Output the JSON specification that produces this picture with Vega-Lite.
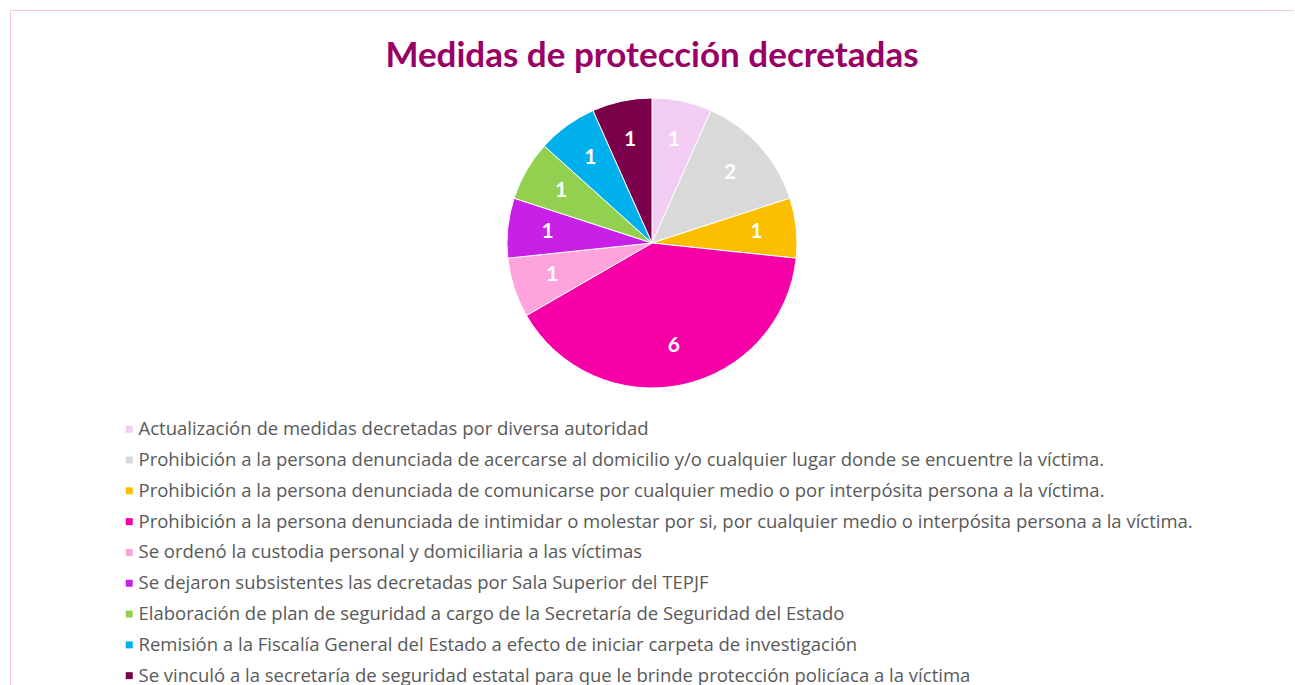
{
  "$schema": "https://vega.github.io/schema/vega-lite/v6.json",
  "width": 1284,
  "height": 466,
  "autosize": "none",
  "padding": {"left": 10, "top": 10, "right": 0, "bottom": 209},
  "background": "#ffffff",
  "view": {"stroke": "#F9C6E0", "strokeWidth": 1, "strokeDash": [1284, 1750, 466, 0]},
  "title": {
    "text": "Medidas de protección decretadas",
    "font": "Lato",
    "fontSize": 35,
    "fontWeight": "bold",
    "color": "#990066",
    "anchor": "middle",
    "offset": -64
  },
  "data": {
    "values": [
      {"order": 1, "medida": "Actualización de medidas decretadas por diversa autoridad", "value": 1},
      {"order": 2, "medida": "Prohibición a la persona denunciada de acercarse al domicilio y/o cualquier lugar donde se encuentre la víctima.", "value": 2},
      {"order": 3, "medida": "Prohibición a la persona denunciada de comunicarse por cualquier medio o por interpósita persona a la víctima.", "value": 1},
      {"order": 4, "medida": "Prohibición a la persona denunciada de intimidar o molestar por si, por cualquier medio o interpósita persona a la víctima.", "value": 6},
      {"order": 5, "medida": "Se ordenó la custodia personal y domiciliaria a las víctimas", "value": 1},
      {"order": 6, "medida": "Se dejaron subsistentes las decretadas por Sala Superior del TEPJF", "value": 1},
      {"order": 7, "medida": "Elaboración de plan de seguridad a cargo de la Secretaría de Seguridad del Estado", "value": 1},
      {"order": 8, "medida": "Remisión a la Fiscalía General del Estado a efecto de iniciar carpeta de investigación", "value": 1},
      {"order": 9, "medida": "Se vinculó a la secretaría de seguridad estatal para que le brinde protección policíaca a la víctima", "value": 1}
    ]
  },
  "encoding": {
    "theta": {"field": "value", "type": "quantitative", "stack": true},
    "order": {"field": "order", "type": "quantitative"}
  },
  "layer": [
    {
      "mark": {"type": "arc", "outerRadius": 145, "stroke": "#ffffff", "strokeWidth": 1},
      "encoding": {
        "color": {
          "field": "medida",
          "type": "nominal",
          "sort": null,
          "scale": {
            "domain": [
              "Actualización de medidas decretadas por diversa autoridad",
              "Prohibición a la persona denunciada de acercarse al domicilio y/o cualquier lugar donde se encuentre la víctima.",
              "Prohibición a la persona denunciada de comunicarse por cualquier medio o por interpósita persona a la víctima.",
              "Prohibición a la persona denunciada de intimidar o molestar por si, por cualquier medio o interpósita persona a la víctima.",
              "Se ordenó la custodia personal y domiciliaria a las víctimas",
              "Se dejaron subsistentes las decretadas por Sala Superior del TEPJF",
              "Elaboración de plan de seguridad a cargo de la Secretaría de Seguridad del Estado",
              "Remisión a la Fiscalía General del Estado a efecto de iniciar carpeta de investigación",
              "Se vinculó a la secretaría de seguridad estatal para que le brinde protección policíaca a la víctima"
            ],
            "range": ["#F3CCF3", "#D9D9D9", "#FBBF00", "#F700A8", "#FFA3DC", "#C820E6", "#92D050", "#00B0EC", "#7A0049"]
          },
          "legend": {
            "orient": "none",
            "legendX": 0,
            "legendY": 300,
            "padding": 110,
            "strokeColor": "#F9C6E0",
            "title": null,
            "symbolType": "square",
            "symbolSize": 49,
            "symbolStrokeWidth": 0,
            "labelFont": "Open Sans",
            "labelFontSize": 18.5,
            "labelColor": "#595959",
            "labelLimit": 2000,
            "labelOffset": 0,
            "rowPadding": 11.8
          }
        }
      }
    },
    {
      "mark": {"type": "text", "radius": 105, "font": "Lato", "fontSize": 21, "fontWeight": "bold", "color": "#ffffff"},
      "encoding": {
        "text": {"field": "value", "type": "quantitative"}
      }
    }
  ],
  "config": {
    "legend": {"strokeDash": [0, 1400, 5000, 0]}
  }
}
